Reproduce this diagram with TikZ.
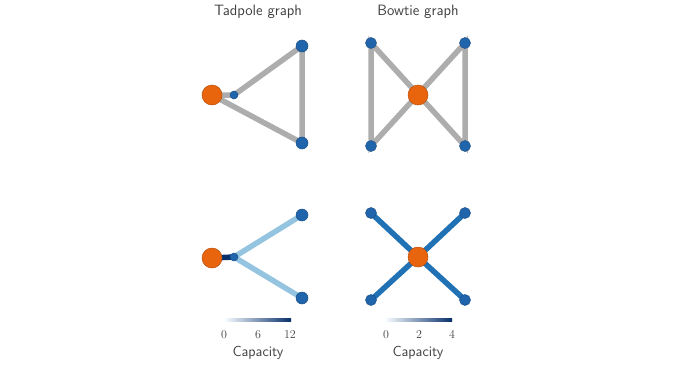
\documentclass[tikz,border=0pt]{standalone}
\usetikzlibrary{positioning}
\definecolor{edgegray}{HTML}{ADADAD}
\definecolor{nodeblue}{HTML}{2064AB}
\definecolor{nodeorange}{HTML}{E8650E}
\definecolor{capdark}{HTML}{08306B}
\definecolor{capmid}{HTML}{2171B5}
\definecolor{caplight}{HTML}{94C4DF}
\definecolor{capwhite}{HTML}{F7FBFF}
\tikzset{
  src/.style={circle,fill=nodeorange,draw=nodeorange!80!black,line width=0.5pt,inner sep=0pt,minimum size=20pt},
  vtx/.style={circle,fill=nodeblue,draw=nodeblue!80!black,line width=0.5pt,inner sep=0pt,minimum size=12pt},
  hub/.style={vtx,minimum size=8pt},
  edge/.style={line width=5.5pt,edgegray},
  ttl/.style={text=black!75,font=\sffamily\fontsize{15}{18}\selectfont},
  tick/.style={text=black!75,font=\fontsize{12}{14}\selectfont}
}
\begin{document}
\begin{tikzpicture}[x=1pt,y=-1pt]
		\useasboundingbox (0,0) rectangle (679,367);
		% tadpole, plain
		\node[ttl] (t1) at (258,12) {Tadpole graph};
		\draw[edge] (212,95)--(234,95)--(302,46)--(302,143)--cycle;
		\node[src] (a0) at (212,95) {};\node[hub] (a1) at (234,95) {};\node[vtx] (a2) at (302,46) {};\node[vtx] (a3) at (302,143) {};
		% bowtie, plain
		\node[ttl] (t2) at (418,12) {Bowtie graph};
		\draw[edge] (371,43)--(371,146)--(465,43)--(465,146)--cycle;
		\node[src] (b0) at (418,95) {};
		\foreach \n/\x/\y in {b1/371/43,b2/465/43,b3/371/146,b4/465/146}{\node[vtx,minimum size=11pt] (\n) at (\x,\y) {};}
		% tadpole, capacities
		\coordinate (c0) at (212,258);\coordinate (c1) at (234,257);\coordinate (c2) at (302,215);\coordinate (c3) at (302,298);
		\draw[edge,caplight] (c2)--(c1)--(c3);
		\draw[edge,capdark] (c0)--(c1);
		\node[src] at (c0) {};\node[hub] at (c1) {};\node[vtx] at (c2) {};\node[vtx] at (c3) {};
		\shade[left color=capwhite,right color=capdark] (225,318.5) rectangle (291,321.5);
		\foreach \x/\v in {224/0,258/6,290/12}{\node[tick] at (\x,335) {$\v$};}
		\node[ttl,font=\sffamily\fontsize{14.5}{17}\selectfont] (k1) at (258,353) {Capacity};
		% bowtie, capacities
		\coordinate (d0) at (418,257);
		\foreach \n/\x/\y in {d1/371/213,d2/465/213,d3/371/300,d4/465/300}{\coordinate (\n) at (\x,\y);\draw[edge,capmid] (d0)--(\n);}
		\node[src] at (d0) {};
		\foreach \n in {d1,d2,d3,d4}{\node[vtx,minimum size=11pt] at (\n) {};}
		\shade[left color=capwhite,right color=capdark] (386,318.5) rectangle (452,321.5);
		\foreach \x/\v in {386/0,419/2,452/4}{\node[tick] at (\x,335) {$\v$};}
		\node[ttl,font=\sffamily\fontsize{14.5}{17}\selectfont] (k2) at (418,353) {Capacity};
	\end{tikzpicture}
\end{document}
